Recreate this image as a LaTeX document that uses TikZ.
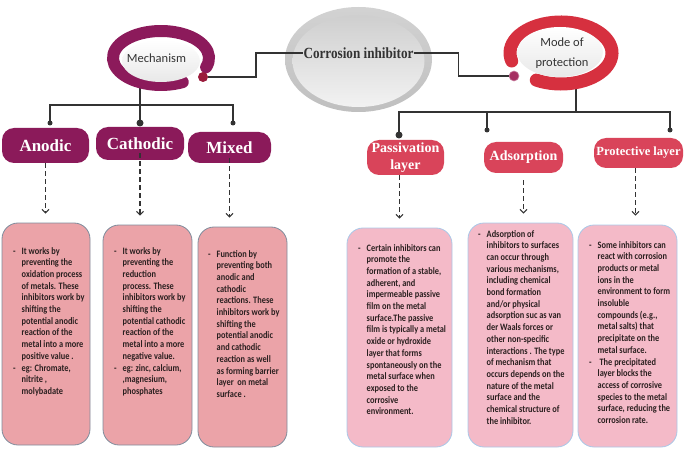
\documentclass[tikz,border=0pt]{standalone}
\usepackage{fontspec}
\setmainfont{Carlito}
\newfontfamily\headfont{Liberation Serif}
\newfontfamily\cifont[FakeStretch=0.85]{Liberation Serif}
\newfontfamily\bodyfont[FakeStretch=0.85]{Carlito}
\usetikzlibrary{arrows.meta,calc,shapes.geometric}
\pgfdeclarelayer{bg}\pgfsetlayers{bg,main}
\definecolor{lineg}{HTML}{333333}
\definecolor{mechc}{HTML}{8C1A5B}
\definecolor{modec}{HTML}{D6303F}
\definecolor{headl}{HTML}{8B1A5A}
\definecolor{headr}{HTML}{D9445A}
\definecolor{lboxc}{HTML}{EBA3A8}
\definecolor{lboxd}{HTML}{7F8C9C}
\definecolor{rboxc}{HTML}{F4BAC8}
\definecolor{rboxd}{HTML}{A9C8E8}
\definecolor{txtc}{HTML}{2B2020}
\definecolor{ringtxt}{HTML}{333333}
\definecolor{mdotc}{HTML}{9A1B3C}
\definecolor{pdotc}{HTML}{A52F62}
\newcommand\bl[1]{\makebox[8.5pt][l]{-}#1}
\newcommand\cl[1]{\hspace*{8.5pt}#1}
\begin{document}
\begin{tikzpicture}[x=1pt,y=-1pt,
  conn/.style={draw=lineg, line width=1.3pt},
  dasharr/.style={draw=lineg, line width=1.1pt, dash pattern=on 5pt off 3pt, -{Straight Barb[length=3.5pt,width=7pt]}, shorten >=9pt},
  headL/.style={rounded corners=12pt, fill=headl, text=white, inner sep=0pt, font=\headfont\bfseries\fontsize{17}{17}\selectfont},
  headR/.style={rounded corners=12pt, fill=headr, text=white, inner sep=0pt, align=center, font=\headfont\bfseries\fontsize{14}{17}\selectfont},
  boxL/.style={rounded corners=16pt, fill=lboxc, draw=lboxd, line width=0.8pt, inner sep=0pt},
  boxR/.style={rounded corners=16pt, fill=rboxc, draw=rboxd, line width=0.8pt, inner sep=0pt},
  bodytext/.style={anchor=north west, inner sep=0pt, align=left, text=txtc, font=\bodyfont\bfseries\fontsize{9.8}{11.7}\selectfont},
  dotS/.style={circle, fill=lineg, inner sep=0pt, minimum size=5pt},
  dotB/.style={circle, fill=lineg, inner sep=0pt, minimum size=7pt},
  ringtext/.style={inner sep=0pt, text=ringtxt, font=\fontsize{12.5}{20}\selectfont, align=center}
]
\useasboundingbox (0,0) rectangle (685,449);

% central ellipse
\node[ellipse, top color=gray!35, bottom color=gray!50, minimum width=147pt, minimum height=105pt, inner sep=0pt] (ci) at (358.5,59.5) {};
\shade[top color=gray!38, bottom color=gray!10] ([yshift=-1.5pt]ci.center) ellipse[x radius=66pt, y radius=46pt];
\node[inner sep=0pt, text=lineg, font=\cifont\bfseries\fontsize{15.5}{16}\selectfont] (cit) at (358.5,53) {Corrosion inhibitor};

% Mechanism ring
\coordinate (mc) at (161,58);
\draw[mechc, line width=12pt, line cap=round] (mc) ++(-20:48pt and 27pt) arc[start angle=-20, end angle=297, x radius=48pt, y radius=27pt];
\node[ellipse, minimum width=78pt, minimum height=42pt, inner sep=0pt, top color=white, bottom color=gray!18] (mech) at (161,61) {};
\node[ringtext] (mecht) at (156.5,58) {Mechanism};
\node[circle, fill=mdotc, inner sep=0pt, minimum size=10pt] (md) at (203,77) {};

% Mode ring
\coordinate (pc) at (561,53);
\draw[modec, line width=13pt, line cap=round] (pc) ++(241:51pt and 31pt) arc[start angle=241, end angle=555, x radius=51pt, y radius=31pt];
\node[ellipse, minimum width=86pt, minimum height=50pt, inner sep=0pt, top color=white, bottom color=gray!18] (mode) at (560,52) {};
\node[ringtext] (modet) at (562,53) {Mode of\\protection};
\node[circle, fill=pdotc, draw=pdotc!60, line width=0.6pt, inner sep=0pt, minimum size=10pt] (mdd) at (514,76) {};

% connectors to central node
\draw[conn] (md) -- ++(53,0) |- (cit.west);
\draw[conn] (cit.east) -- ++(45,0) |- (mdd);

% tree junctions and dots
\coordinate (mj) at (140,105);
\coordinate (pj) at (576,112);
\node[dotS] (da) at (50,123) {};
\node[dotB] (dc) at (140,123) {};
\node[dotS] (dm) at (233,123) {};
\node[dotB] (dp) at (399,135) {};
\node[dotS] (dd) at (487,130) {};
\node[dotS] (dr) at (670,130) {};
\begin{pgfonlayer}{bg}
\draw[conn] (mech.south -| mj) -- (dc.center);
\draw[conn] (da.center) -- (da |- mj) -- (dm |- mj) -- (dm.center);
\draw[conn] (mode.south -| pj) -- (pj);
\draw[conn] (dp.center) -- (dp |- pj) -- (dr |- pj) -- (dr.center);
\draw[conn] (dd |- pj) -- (dd.center);
\end{pgfonlayer}

% heading boxes
\node[headL, minimum width=87pt, minimum height=35pt] (anod) at (45.5,145.5) {Anodic};
\node[headL, minimum width=88pt, minimum height=33pt] (cath) at (140,143.5) {Cathodic};
\node[headL, minimum width=83pt, minimum height=31pt] (mixd) at (229.5,147.5) {Mixed};
\node[headR, minimum width=77pt, minimum height=35pt] (pasv) at (405.5,157.5) {Passivation\\layer};
\node[headR, minimum width=79pt, minimum height=31pt] (ads) at (523.5,157.5) {Adsorption};
\node[headR, minimum width=89pt, minimum height=30pt, font=\headfont\bfseries\fontsize{12.5}{15}\selectfont] (prot) at (638.5,153) {Protective layer};

% text boxes
\node[boxL, minimum width=88pt, minimum height=222pt] (atx) at (46,334) {};
\node[boxL, minimum width=89pt, minimum height=220pt] (ctx) at (147.5,335) {};
\node[boxL, minimum width=89pt, minimum height=220pt] (mtx) at (242.5,337) {};
\node[boxR, minimum width=105pt, minimum height=219pt] (ptx) at (399.5,337.5) {};
\node[boxR, minimum width=105pt, minimum height=224pt] (adtx) at (520.5,335) {};
\node[boxR, minimum width=99pt, minimum height=222pt] (prtx) at (627.5,336) {};

% dashed arrows
\draw[dasharr] (anod.south) -- (anod.south |- atx.north);
\draw[dasharr] ([yshift=7pt]cath.south) -- (cath.south |- ctx.north);
\draw[dasharr] ([yshift=5pt]mixd.south) -- (mixd.south |- mtx.north);
\draw[dasharr] (pasv.south -| ptx.north) -- (ptx.north);
\draw[dasharr] ([yshift=-7pt]ads.south) -- (ads.south |- adtx.north);
\draw[dasharr] ([xshift=-3pt]prot.south) -- ([xshift=-3pt]prot.south |- prtx.north);

% body texts
\node[bodytext] (at1) at (13,247) {\bl{It works by}\\ \cl{preventing the}\\ \cl{oxidation process}\\ \cl{of metals. These}\\ \cl{inhibitors work by}\\ \cl{shifting the}\\ \cl{potential anodic}\\ \cl{reaction of the}\\ \cl{metal into a more}\\ \cl{positive value .}\\ \bl{eg: Chromate,}\\ \cl{nitrite ,}\\ \cl{molybadate}};
\node[bodytext] (ct1) at (114,247) {\bl{It works by}\\ \cl{preventing the}\\ \cl{reduction}\\ \cl{process. These}\\ \cl{inhibitors work by}\\ \cl{shifting the}\\ \cl{potential cathodic}\\ \cl{reaction of the}\\ \cl{metal into a more}\\ \cl{negative value.}\\ \bl{eg: zinc, calcium,}\\ \cl{,magnesium,}\\ \cl{phosphates}};
\node[bodytext] (mt1) at (208,250) {\bl{Function by}\\ \cl{preventing both}\\ \cl{anodic and}\\ \cl{cathodic}\\ \cl{reactions. These}\\ \cl{inhibitors work by}\\ \cl{shifting the}\\ \cl{potential anodic}\\ \cl{and cathodic}\\ \cl{reaction as well}\\ \cl{as forming barrier}\\ \cl{layer\ \ on metal}\\ \cl{surface .}};
\node[bodytext] (pt1) at (358,244) {\bl{Certain inhibitors can}\\ \cl{promote the}\\ \cl{formation of a stable,}\\ \cl{adherent, and}\\ \cl{impermeable passive}\\ \cl{film on the metal}\\ \cl{surface.The passive}\\ \cl{film is typically a metal}\\ \cl{oxide or hydroxide}\\ \cl{layer that forms}\\ \cl{spontaneously on the}\\ \cl{metal surface when}\\ \cl{exposed to the}\\ \cl{corrosive}\\ \cl{environment.}};
\node[bodytext] (adt1) at (478,230) {\bl{Adsorption of}\\ \cl{inhibitors to surfaces}\\ \cl{can occur through}\\ \cl{various mechanisms,}\\ \cl{including chemical}\\ \cl{bond formation}\\ \cl{and/or physical}\\ \cl{adsorption suc as van}\\ \cl{der Waals forces or}\\ \cl{other non-specific}\\ \cl{interactions . The type}\\ \cl{of mechanism that}\\ \cl{occurs depends on the}\\ \cl{nature of the metal}\\ \cl{surface and the}\\ \cl{chemical structure of}\\ \cl{the inhibitor.}};
\node[bodytext] (prt1) at (589,241) {\bl{Some inhibitors can}\\ \cl{react with corrosion}\\ \cl{products or metal}\\ \cl{ions in the}\\ \cl{environment to form}\\ \cl{insoluble}\\ \cl{compounds (e.g.,}\\ \cl{metal salts) that}\\ \cl{precipitate on the}\\ \cl{metal surface.}\\ \bl{\ The precipitated}\\ \cl{layer blocks the}\\ \cl{access of corrosive}\\ \cl{species to the metal}\\ \cl{surface, reducing the}\\ \cl{corrosion rate.}};
\end{tikzpicture}
\end{document}
